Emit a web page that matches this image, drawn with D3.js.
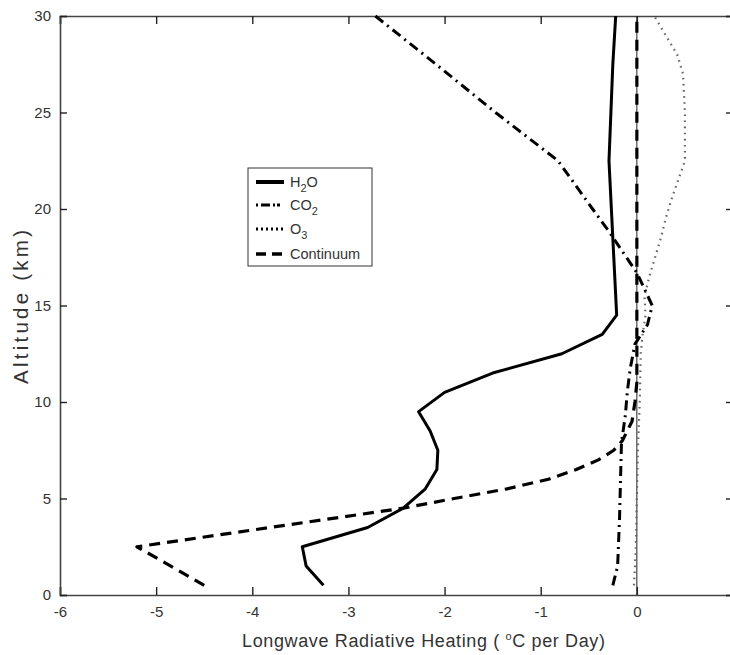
<!DOCTYPE html>
<html><head><meta charset="utf-8">
<script src="https://cdn.jsdelivr.net/npm/d3@7"></script>
<style>
body{margin:0;background:#fff;}
svg{display:block;font-family:"Liberation Sans",Arial,sans-serif;}
</style></head>
<body><svg id="c" width="730" height="655"></svg>
<script>
// ---- data (altitude km, heating °C/day) ----
const h2oAlt = [0.5,1.5,2.5,3.5,4.5,5.5,6.5,7.5,8.5,9.5,10.5,11.5,12.5,13.5,14.5,22.5,25,27.5,30];
const h2oVal = [-3.26,-3.44,-3.48,-2.8,-2.43,-2.2,-2.08,-2.07,-2.15,-2.27,-2.0,-1.5,-0.78,-0.36,-0.21,-0.29,-0.27,-0.25,-0.22];
const co2Alt = [0.5,1.5,4,7.9,9.3,10.5,11.7,13,14,15,16.7,18.9,20,22.5,25,27.5,30];
const co2Val = [-0.25,-0.2,-0.18,-0.16,-0.12,-0.1,-0.07,-0.02,0.11,0.16,0.0,-0.3,-0.46,-0.82,-1.47,-2.09,-2.72];
const o3Alt = [0.5,2.5,5,7.5,10,12.5,13.5,14.5,15.5,16.5,17.5,18.5,19.5,20.5,21.5,22.5,25,27,28,29,30];
const o3Val = [-0.03,-0.01,0,0.01,0.03,0.04,0.06,0.09,0.08,0.13,0.19,0.25,0.3,0.36,0.43,0.5,0.5,0.48,0.42,0.3,0.18];
const contAlt = [0.5,2.5,4.5,5,5.5,6,6.5,7,7.5,8,9,10,11,30];
const contVal = [-4.5,-5.2,-2.43,-1.9,-1.35,-0.92,-0.63,-0.4,-0.24,-0.15,-0.05,-0.02,0,0];
const xTicks = [-6,-5,-4,-3,-2,-1,0];
const yTicks = [0,5,10,15,20,25,30];
const seriesNames = ["H2O","CO2","O3","Continuum"];

const svg = d3.select("#c");
const L=60, R=733, T=16, B=595;
const x = d3.scaleLinear().domain([-6,1]).range([L,R]);
const y = d3.scaleLinear().domain([0,30]).range([B,T]);
const axisColor="#444";
const fmt = d=>String(d);

// axes
const gx = svg.append("g").attr("transform",`translate(0,${B})`)
  .call(d3.axisBottom(x).tickValues(xTicks).tickSize(-8).tickPadding(11).tickFormat(fmt));
const gxt = svg.append("g").attr("transform",`translate(0,${T})`)
  .call(d3.axisTop(x).tickValues(xTicks).tickSize(-8).tickFormat(""));
const gy = svg.append("g").attr("transform",`translate(${L},0)`)
  .call(d3.axisLeft(y).tickValues(yTicks).tickSize(-7).tickPadding(9).tickFormat(fmt));
const gyr = svg.append("g").attr("transform",`translate(${R},0)`)
  .call(d3.axisRight(y).tickValues(yTicks).tickSize(-7).tickFormat(""));
[gx,gxt,gy,gyr].forEach(g=>{
  g.select(".domain").attr("stroke",axisColor).attr("stroke-width",1.6);
  g.selectAll(".tick line").attr("stroke","#222").attr("stroke-width",1.4);
  g.selectAll("text").attr("fill","#333").style("font-size","15px")
   .style("font-family",'"Liberation Sans",Arial,sans-serif');
});

// zero line
svg.append("line").attr("x1",x(0)).attr("x2",x(0)).attr("y1",y(0)).attr("y2",y(30))
  .attr("stroke","#222").attr("stroke-width",1);

const line = d3.line().x(d=>x(d[1])).y(d=>y(d[0]));
const zip=(a,v)=>a.map((d,i)=>[d,v[i]]);

const styles = {
  "H2O":{data:zip(h2oAlt,h2oVal),w:3,dash:null,c:"#000"},
  "CO2":{data:zip(co2Alt,co2Val),w:3,dash:"10,5,2,5",c:"#000"},
  "O3":{data:zip(o3Alt,o3Val),w:2.2,dash:"1.6,4.5",c:"#666"},
  "Continuum":{data:zip(contAlt,contVal),w:3.2,dash:"11,7",c:"#000"}
};
["O3","CO2","Continuum","H2O"].forEach(k=>{
  const s=styles[k];
  svg.append("path").datum(s.data).attr("d",line).attr("fill","none")
    .attr("stroke",s.c).attr("stroke-width",s.w)
    .attr("stroke-dasharray",s.dash).attr("stroke-linejoin","round");
});

// labels
svg.append("text").attr("x",242).attr("y",647).attr("text-anchor","start")
  .attr("fill","#333").style("font-size","18px")
  .attr("textLength",363).attr("lengthAdjust","spacing")
  .html('Longwave Radiative Heating ( <tspan dy="-7" font-size="11px">o</tspan><tspan dy="7">C per Day)</tspan>');
svg.append("text").attr("transform","translate(28,384) rotate(-90)").attr("text-anchor","start")
  .attr("fill","#333").style("font-size","20.5px")
  .attr("textLength",154).attr("lengthAdjust","spacing").text("Altitude (km)");

// legend
const lg = svg.append("g");
lg.append("rect").attr("x",248).attr("y",168).attr("width",124).attr("height",98)
  .attr("fill","#fff").attr("stroke","#333").attr("stroke-width",1);
const legY=[182,205,229,254];
const legStyle={"H2O":{w:4,dash:null},"CO2":{w:3,dash:"2,3,9,3,2"},"O3":{w:3,dash:"2,3"},"Continuum":{w:3.5,dash:"10,6"}};
const legLabel={
  "H2O":'H<tspan dy="5" font-size="11px">2</tspan><tspan dy="-5">O</tspan>',
  "CO2":'CO<tspan dy="5" font-size="11px">2</tspan>',
  "O3":'O<tspan dy="5" font-size="11px">3</tspan>',
  "Continuum":'Continuum'};
seriesNames.forEach((k,i)=>{
  lg.append("line").attr("x1",256).attr("x2",284).attr("y1",legY[i]).attr("y2",legY[i])
    .attr("stroke","#000").attr("stroke-width",legStyle[k].w).attr("stroke-dasharray",legStyle[k].dash);
  lg.append("text").attr("x",290).attr("y",legY[i]+5).attr("fill","#333")
    .style("font-size","14.5px").html(legLabel[k]);
});
</script></body></html>
